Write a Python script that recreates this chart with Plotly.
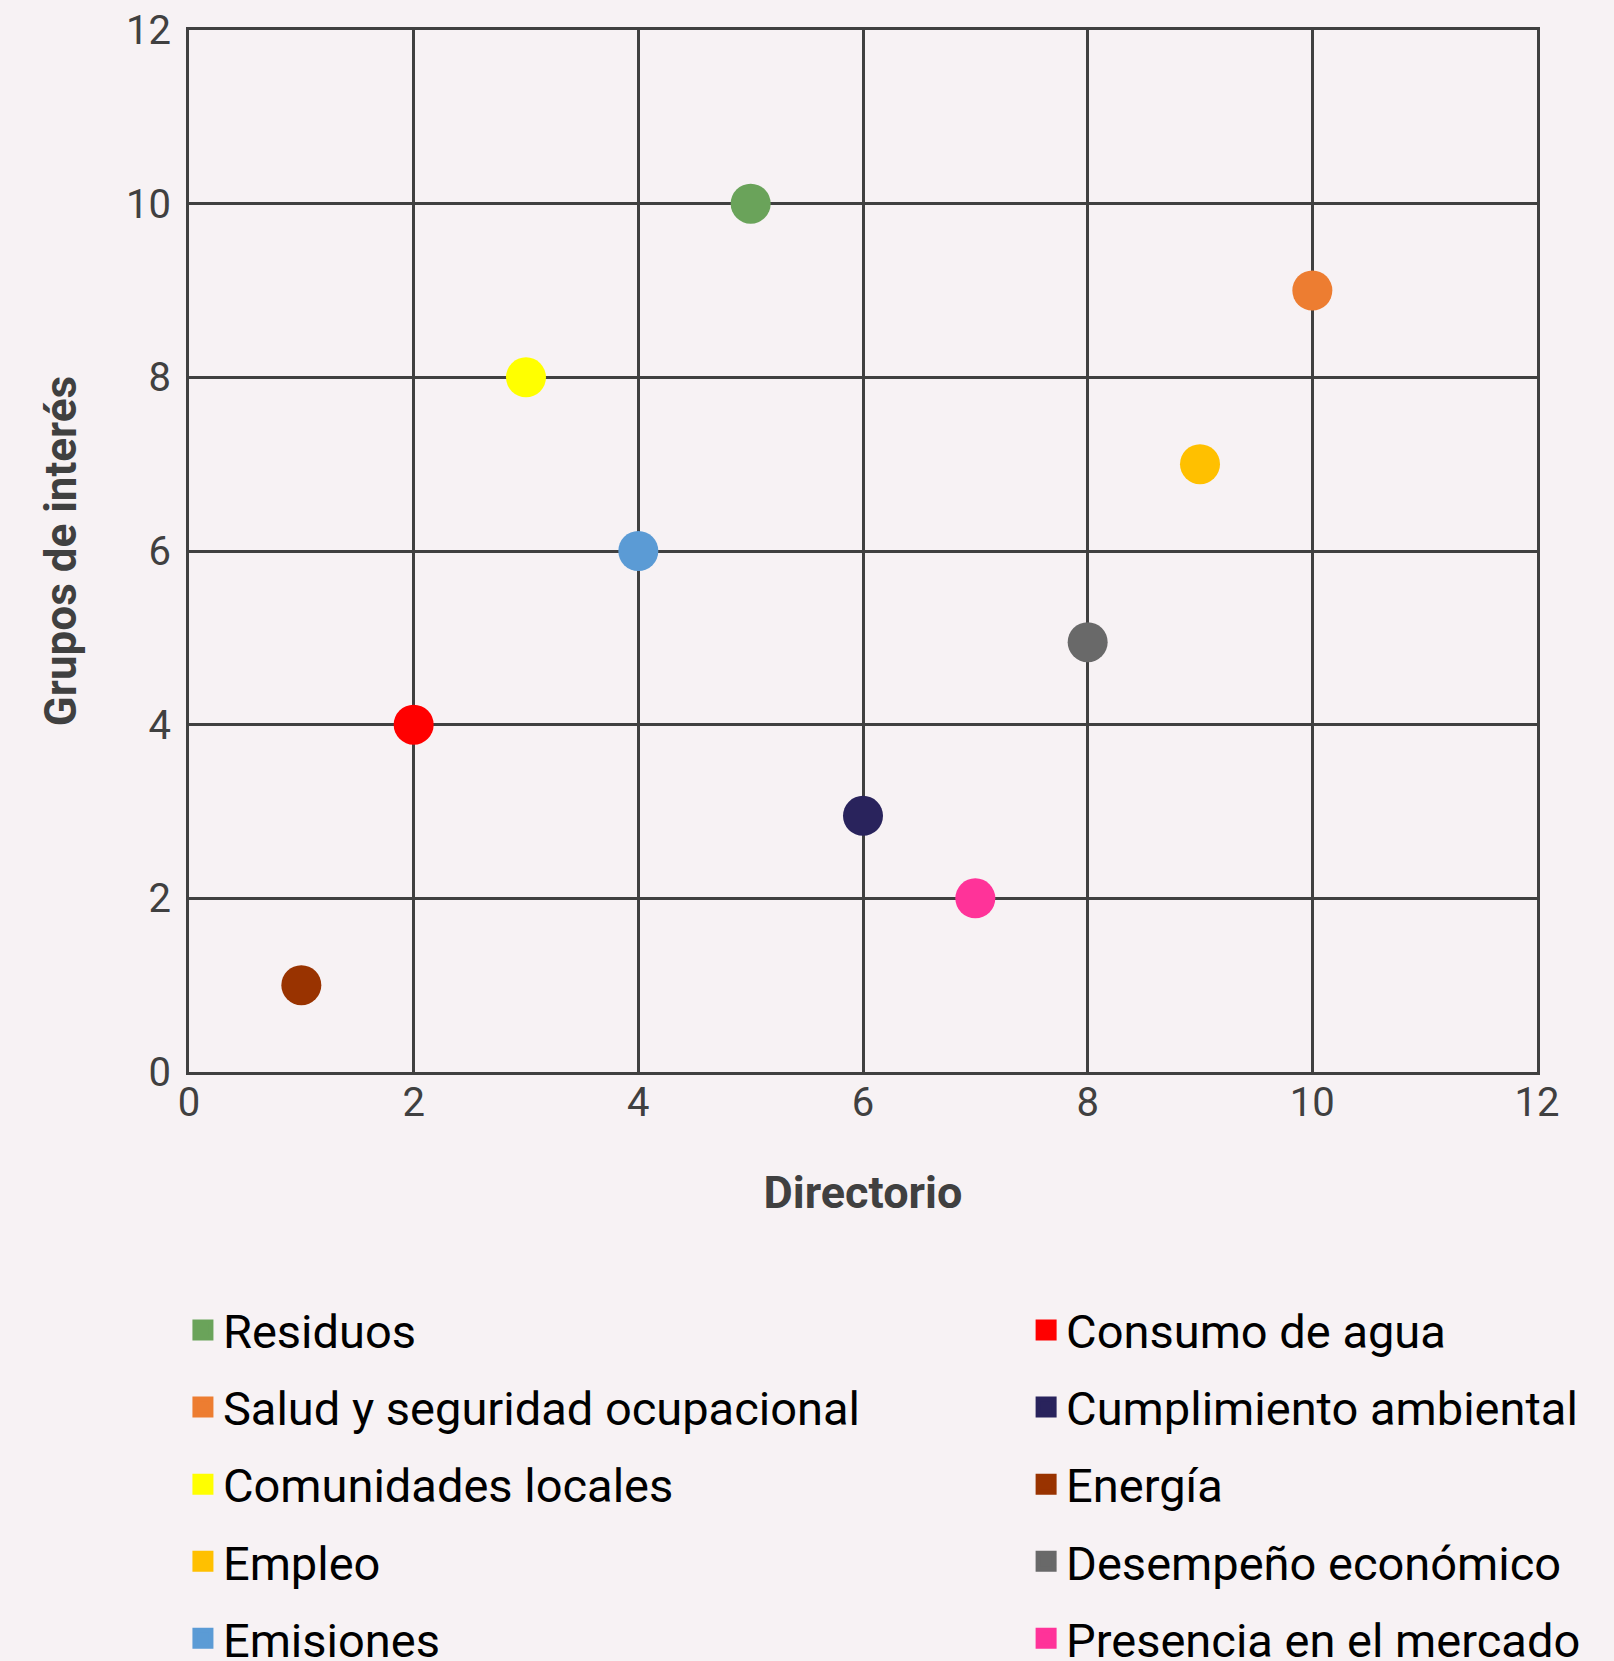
import plotly.graph_objects as go

names = ["Residuos", "Salud y seguridad ocupacional", "Comunidades locales", "Empleo", "Emisiones",
         "Consumo de agua", "Cumplimiento ambiental", "Energía", "Desempeño económico", "Presencia en el mercado"]
directorio = [5, 10, 3, 9, 4, 2, 6, 1, 8, 7]
grupos = [10, 9, 8, 7, 6, 4, 2.95, 1, 4.95, 2]
colors = ["#6aa35a", "#ed7d31", "#ffff00", "#ffc000", "#5b9bd5",
          "#ff0000", "#29235c", "#993300", "#696969", "#ff3399"]
ticks = [0, 2, 4, 6, 8, 10, 12]

FONT = "Roboto"
BG = "#f7f2f4"
INK = "#404040"

fig = go.Figure()
for i, (n, x, y, c) in enumerate(zip(names, directorio, grupos, colors)):
    leg = "legend" if i < 5 else "legend2"
    # data point
    fig.add_trace(go.Scatter(
        x=[x], y=[y], mode="markers", name=n,
        marker=dict(size=40, color=c, symbol="circle"),
        legend=leg, legendgroup=n, showlegend=False,
    ))
    # legend swatch (square key, same colour)
    fig.add_trace(go.Scatter(
        x=[None], y=[None], mode="markers", name=n,
        marker=dict(size=16, color=c, symbol="square", line=dict(color=c, width=5)),
        legend=leg, legendgroup=n, showlegend=True, hoverinfo="skip",
    ))

axis_common = dict(
    range=[0, 12], tickvals=ticks, showgrid=True, gridcolor=INK, gridwidth=2.5,
    showline=True, linecolor=INK, linewidth=3, mirror=True, zeroline=False,
    ticks="", tickfont=dict(family=FONT, size=40, color=INK),
)

legend_common = dict(
    font=dict(family=FONT, size=47, color="#000000"),
    bgcolor="rgba(0,0,0,0)", orientation="v", traceorder="grouped",
    tracegroupgap=13, yanchor="top", xanchor="left", itemsizing="trace",
)

fig.update_layout(
    width=1614, height=1661,
    margin=dict(l=189, r=77, t=30, b=589, autoexpand=False),
    paper_bgcolor=BG, plot_bgcolor=BG,
    showlegend=True,
    xaxis=dict(**axis_common, ticklabelstandoff=-7,
               title=dict(text="<b>Directorio</b>", standoff=52,
                          font=dict(family=FONT, size=45, color=INK))),
    yaxis=dict(**axis_common, ticklabelstandoff=7,
               title=dict(text="<b>Grupos de interés</b>", standoff=36,
                          font=dict(family=FONT, size=44, color=INK))),
    legend=dict(**legend_common, x=-0.0045, y=-0.212),
    legend2=dict(**legend_common, x=0.621, y=-0.212),
)

fig.write_html("out.html", config={"displayModeBar": False},
               post_script="document.body.style.margin='0';document.body.style.background='%s';" % BG)
